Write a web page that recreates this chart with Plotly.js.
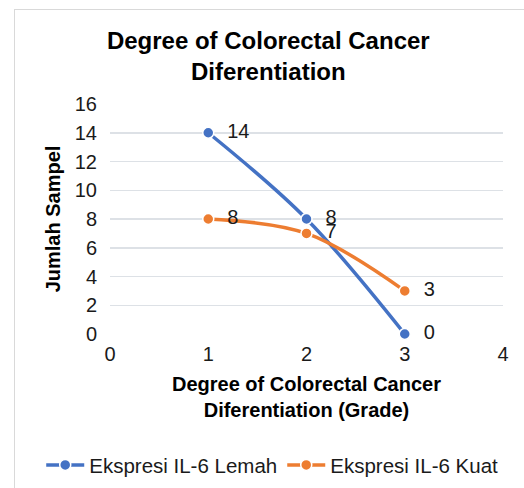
<!DOCTYPE html>
<html>
<head>
<meta charset="utf-8">
<script src="https://cdn.plot.ly/plotly-3.0.1.min.js"></script>
<style>
html,body{margin:0;padding:0;background:#fff;}
#wrap{position:relative;width:524px;height:488px;overflow:hidden;}
#chart{position:absolute;left:0;top:0;width:524px;height:488px;}
#frame{position:absolute;left:14px;top:9px;width:700px;height:700px;border:1.5px solid #d9d9d9;pointer-events:none;}
</style>
</head>
<body>
<div id="wrap"><div id="chart"></div><div id="frame"></div></div>
<script>
var grades = [1, 2, 3];
var lemah = [14, 8, 0];
var kuat = [8, 7, 3];
var seriesNames = ["Ekspresi IL-6 Lemah", "Ekspresi IL-6 Kuat"];
var xTicks = [0, 1, 2, 3, 4];
var yTicks = [0, 2, 4, 6, 8, 10, 12, 14, 16];

var FONT = "Liberation Sans, Arial, sans-serif";

function series(y, name, color) {
  return {
    x: grades, y: y, name: name, type: "scatter", mode: "lines+markers+text",
    line: {color: color, width: 3.5, shape: "spline", smoothing: 1},
    marker: {color: color, size: 11, line: {color: "#ffffff", width: 1.5}},
    text: y.map(String), texttemplate: "  %{text}", textposition: "middle right",
    textfont: {family: FONT, size: 20, color: "#1a1a1a"},
    cliponaxis: false
  };
}

var data = [series(lemah, seriesNames[0], "#4472C4"), series(kuat, seriesNames[1], "#ED7D31")];

var layout = {
  width: 524, height: 488,
  margin: {l: 110, r: 21, t: 104, b: 154, autoexpand: false},
  paper_bgcolor: "#ffffff", plot_bgcolor: "#ffffff",
  font: {family: FONT, color: "#1a1a1a"},
  title: {text: "<b>Degree of Colorectal Cancer<br>Diferentiation</b>", font: {family: FONT, size: 24, color: "#000"}, x: 0.512, xanchor: "center", y: 0.9, yanchor: "top", automargin: false},
  xaxis: {
    range: [0, 4], tickvals: xTicks, ticktext: xTicks.map(String),
    showgrid: false, zeroline: false, showline: false, ticks: "",
    tickfont: {family: FONT, size: 20, color: "#1a1a1a"}, ticklabelstandoff: 6,
    title: {text: "<b>Degree of Colorectal Cancer<br>Diferentiation (Grade)</b>", font: {family: FONT, size: 20, color: "#000"}, standoff: 12},
    automargin: false, fixedrange: true
  },
  yaxis: {
    range: [0, 16], tickvals: yTicks, ticktext: yTicks.map(String),
    showgrid: true, gridcolor: "#dde1e6", gridwidth: 1.5, zeroline: false, showline: false, ticks: "",
    tickfont: {family: FONT, size: 20, color: "#1a1a1a"}, ticklabelstandoff: 12,
    title: {text: "<b>Jumlah Sampel</b>", font: {family: FONT, size: 20, color: "#000"}, standoff: 8},
    automargin: false, fixedrange: true
  },
  showlegend: true,
  legend: {orientation: "h", x: -0.175, xanchor: "left", y: -0.57, yanchor: "middle",
    font: {family: FONT, size: 20.5, color: "#1a1a1a"}, itemwidth: 38, tracegroupgap: 0}
};

Plotly.newPlot("chart", data, layout, {displayModeBar: false, staticPlot: true});
</script>
</body>
</html>
